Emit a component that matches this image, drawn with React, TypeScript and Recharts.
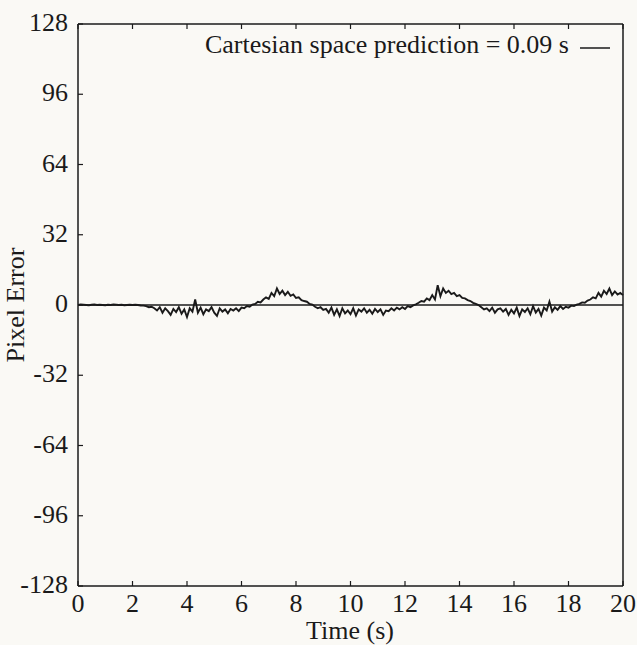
import React from 'react';
import { LineChart, Line, XAxis, YAxis, ReferenceLine, Legend } from 'recharts';

const sampleStep = 0.1;
const pixelError: number[] = [
  // 0.0 - 2.4
  0, 0.2, 0.1, 0, -0.1, 0.1, 0.2, 0, 0.1, 0, -0.1, 0.1, 0, 0.2, 0.1, 0, 0.1, -0.1, 0, 0.1, 0, 0.1, 0, -0.2, -0.3,
  // 2.5 - 6.3
  -0.5, -1, -0.8, -1.5, -2.5, -1, -3.5, -1.5, -2.8, -4.5, -1.8, -3.2, -1, -4, -2, -5.5, -1.5, -3, 2.5, -3.5,
  -1.2, -4.2, -2, -2.8, -1, -3.5, -5, -1.5, -3, -2, -3.8, -1.8, -2.5, -1.5, -2.8, -1.2, -1.5, -0.5, -0.8,
  // 6.4 - 8.6
  0.2, 0.5, 1.5, 1.2, 2.5, 3.5, 2.8, 5.5, 4, 7.5, 5, 6.5, 4.5, 6, 4.2, 4.8, 3.2, 3.5, 2.2, 1.8, 1.5, 0.5, 0.2,
  // 8.7 - 12.3
  -0.8, -1.5, -1, -2.2, -1.8, -3.5, -1.2, -4.5, -2, -5, -1.5, -3.8, -2.5, -4.2, -1.5, -4.8, -2, -3, -1.5,
  -3.5, -2.2, -4, -1.8, -3.2, -2, -4.5, -2.5, -2.8, -1.5, -2.5, -1.2, -2, -1, -1.8, -0.5, -1, -0.2,
  // 12.4 - 14.7
  0.3, 1, 1.8, 1.5, 3, 2.2, 4.5, 2.5, 9, 4, 7.5, 5.5, 6.5, 5, 5.5, 4, 4.5, 3.2, 3, 2.2, 1.8, 1, 0.5, 0,
  // 14.8 - 18.3
  -1, -2, -1.5, -2.8, -1.2, -3.5, -2, -1.5, -3, -1.8, -4.5, -2.2, -3.8, -1.2, -5, -2, -3.2, -1.5,
  -4.2, -0.5, -3.5, -1.8, -4.8, -1.2, -2.5, 1.5, -3, -1, -2.2, -0.5, -1.8, -0.8, -1.2, -0.3, -0.5, 0.2,
  // 18.4 - 20.0
  0.5, 1.2, 1, 2, 2.5, 3.5, 3, 5.5, 3.8, 6.5, 5, 7.5, 4.5, 6.2, 4.8, 5.5, 4.5,
];

const xTicks = [0, 2, 4, 6, 8, 10, 12, 14, 16, 18, 20];
const yTicks = [-128, -96, -64, -32, 0, 32, 64, 96, 128];
const seriesName = 'Cartesian space prediction = 0.09 s';
const xLabel = 'Time (s)';
const yLabel = 'Pixel Error';

const data = pixelError.map((v, i) => ({ t: Math.round(i * sampleStep * 10) / 10, e: v }));

const FONT = '"Liberation Serif", "Times New Roman", serif';
const INK = '#1a1a1a';
const TICK = 5;
const FS = 26;

const BottomTick = (props: any) => {
  const { x, y, payload } = props;
  return (
    <g>
      <line x1={x} x2={x} y1={y} y2={y - TICK} stroke={INK} strokeWidth={1.2} />
      <text x={x} y={y + 26} textAnchor="middle" fontFamily={FONT} fontSize={FS} fill={INK}>
        {payload.value}
      </text>
    </g>
  );
};

const TopTick = (props: any) => {
  const { x, y } = props;
  return <line x1={x} x2={x} y1={y} y2={y + TICK} stroke={INK} strokeWidth={1.2} />;
};

const LeftTick = (props: any) => {
  const { x, y, payload } = props;
  return (
    <g>
      <line x1={x} x2={x + TICK} y1={y} y2={y} stroke={INK} strokeWidth={1.2} />
      <text x={x - 10} y={y + 7} textAnchor="end" fontFamily={FONT} fontSize={FS} fill={INK}>
        {payload.value}
      </text>
    </g>
  );
};

const RightTick = (props: any) => {
  const { x, y } = props;
  return <line x1={x} x2={x - TICK} y1={y} y2={y} stroke={INK} strokeWidth={1.2} />;
};

const LegendContent = () => (
  <svg width={430} height={40} style={{ display: 'block' }}>
    <text x={389} y={29} textAnchor="end" fontFamily={FONT} fontSize={FS} fill={INK}>
      {seriesName}
    </text>
    <line x1={400} x2={430} y1={24} y2={24} stroke={INK} strokeWidth={1.5} />
  </svg>
);

const XTitle = () => (
  <text x={350} y={639} textAnchor="middle" fontFamily={FONT} fontSize={FS} fill={INK}>
    {xLabel}
  </text>
);

const YTitle = () => (
  <text x={24} y={305} textAnchor="middle" fontFamily={FONT} fontSize={FS} fill={INK} transform="rotate(-90, 24, 305)">
    {yLabel}
  </text>
);

export default function App() {
  return (
    <div style={{ position: 'absolute', left: 0, top: 0, width: 637, height: 645, background: '#faf9f5' }}>
      <LineChart width={637} height={645} data={data} margin={{ top: 23, right: 13, left: 18, bottom: 14 }}>
        <XAxis
          xAxisId="bottom"
          dataKey="t"
          type="number"
          domain={[0, 20]}
          ticks={xTicks}
          interval={0}
          height={45}
          tickSize={0}
          tickMargin={0}
          tick={<BottomTick />}
          axisLine={{ stroke: INK, strokeWidth: 1.5 }}
          tickLine={false}
          label={<XTitle />}
        />
        <XAxis
          xAxisId="top"
          orientation="top"
          dataKey="t"
          type="number"
          domain={[0, 20]}
          ticks={xTicks}
          interval={0}
          height={1}
          tickSize={0}
          tickMargin={0}
          tick={<TopTick />}
          axisLine={{ stroke: INK, strokeWidth: 1.5 }}
          tickLine={false}
        />
        <YAxis
          yAxisId="left"
          type="number"
          domain={[-128, 128]}
          ticks={yTicks}
          interval={0}
          width={60}
          tickSize={0}
          tickMargin={0}
          tick={<LeftTick />}
          axisLine={{ stroke: INK, strokeWidth: 1.5 }}
          tickLine={false}
          label={<YTitle />}
        />
        <YAxis
          yAxisId="right"
          orientation="right"
          type="number"
          domain={[-128, 128]}
          ticks={yTicks}
          interval={0}
          width={1}
          tickSize={0}
          tickMargin={0}
          tick={<RightTick />}
          axisLine={{ stroke: INK, strokeWidth: 1.5 }}
          tickLine={false}
        />
        <ReferenceLine xAxisId="bottom" yAxisId="left" y={0} stroke={INK} strokeWidth={1.5} />
        <Line
          xAxisId="bottom"
          yAxisId="left"
          type="linear"
          dataKey="e"
          name={seriesName}
          stroke={INK}
          strokeWidth={1.9}
          dot={false}
          isAnimationActive={false}
        />
        <Legend
          layout="horizontal"
          verticalAlign="middle"
          align="center"
          content={<LegendContent />}
          wrapperStyle={{ top: 24, right: 27, left: 'auto', bottom: 'auto', width: 430 }}
        />
      </LineChart>
    </div>
  );
}
